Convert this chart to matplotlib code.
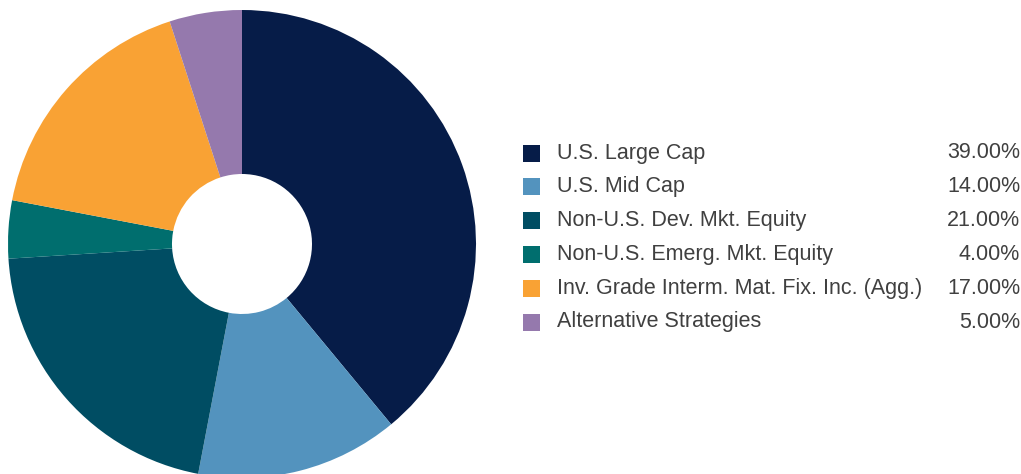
import matplotlib
matplotlib.use("Agg")
import matplotlib.pyplot as plt
from matplotlib.patches import Rectangle

labels = [
    "U.S. Large Cap",
    "U.S. Mid Cap",
    "Non-U.S. Dev. Mkt. Equity",
    "Non-U.S. Emerg. Mkt. Equity",
    "Inv. Grade Interm. Mat. Fix. Inc. (Agg.)",
    "Alternative Strategies",
]
weights = [39.0, 14.0, 21.0, 4.0, 17.0, 5.0]
colors = ["#061c48", "#5393be", "#004d63", "#006e6e", "#f9a234", "#9579ad"]

W, H = 1021, 474
fig = plt.figure(figsize=(W / 100, H / 100), dpi=100)

# donut: centre ~ (242, 244) px, outer r ~234, inner r ~70
cx, cy, r = 242, 244, 234
ax = fig.add_axes([(cx - r) / W, (H - cy - r) / H, 2 * r / W, 2 * r / H])
ax.pie(weights, colors=colors, startangle=90, counterclock=False, radius=1,
       wedgeprops=dict(width=1 - 70 / r, linewidth=0))
ax.set_xlim(-1, 1)
ax.set_ylim(-1, 1)
ax.set_aspect("equal")
ax.axis("off")

# legend, drawn by hand in pixel coords
txt = "#404040"
y0, step = 153, 33.8
for i, (lab, w, c) in enumerate(zip(labels, weights, colors)):
    y = y0 + i * step
    fig.patches.append(Rectangle((523 / W, (H - y - 8.5) / H), 17 / W, 17 / H,
                                 transform=fig.transFigure, facecolor=c,
                                 edgecolor="none"))
    fig.text(557 / W, (H - y) / H, lab, ha="left", va="center",
             fontsize=15.5, family="Liberation Sans", color=txt)
    fig.text(1020 / W, (H - y) / H, "%.2f%%" % w, ha="right", va="center",
             fontsize=15.5, family="Liberation Sans", color=txt)

fig.savefig("out.png", dpi=100)
